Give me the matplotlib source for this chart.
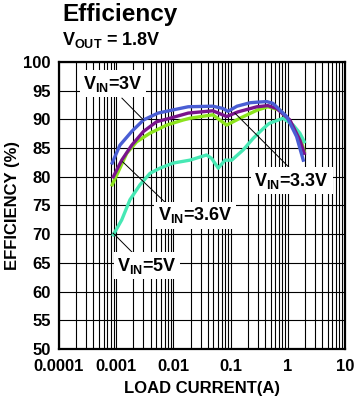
import numpy as np
import matplotlib
matplotlib.use("Agg")
import matplotlib.pyplot as plt
from matplotlib.ticker import LogLocator, FixedLocator, NullFormatter

# Datos (corriente de carga en A, eficiencia en %)
I_3V = [0.00085, 0.00116, 0.00187, 0.003, 0.0054, 0.0093, 0.0182, 0.049, 0.074,
        0.09, 0.13, 0.22, 0.29, 0.43, 0.55, 0.96, 1.43, 1.87]
EFF_3V = [82.4, 85.5, 87.9, 89.9, 91.1, 91.6, 92.2, 92.3, 91.9,
          91.4, 92.3, 92.9, 93.0, 93.1, 92.8, 90.5, 87.0, 82.9]

I_33V = [0.00089, 0.00125, 0.00187, 0.003, 0.0051, 0.0087, 0.0182, 0.049, 0.0855,
         0.134, 0.29, 0.45, 0.64, 1.09, 1.63, 1.95]
EFF_33V = [80.0, 82.9, 85.5, 87.9, 89.6, 90.2, 91.1, 91.5, 90.5,
           91.3, 92.2, 92.4, 91.9, 89.9, 86.4, 84.1]

I_36V = [0.00085, 0.00116, 0.00153, 0.00228, 0.0039, 0.0076, 0.0149, 0.0195, 0.049,
         0.0855, 0.146, 0.29, 0.45, 0.73, 1.09, 1.63, 1.95]
EFF_36V = [78.6, 81.5, 84.1, 86.1, 87.6, 89.0, 89.9, 90.2, 90.8,
           89.0, 90.2, 91.6, 92.2, 91.6, 89.6, 87.0, 84.4]

I_5V = [0.00089, 0.00125, 0.00174, 0.0026, 0.0039, 0.0058, 0.010, 0.0195, 0.038,
        0.0467, 0.061, 0.080, 0.105, 0.167, 0.249, 0.373, 0.475, 0.83, 1.25, 1.63, 1.95]
EFF_5V = [69.9, 72.5, 76.0, 78.6, 80.6, 81.5, 82.4, 82.9, 83.8,
          83.2, 81.5, 82.9, 82.9, 84.7, 86.7, 88.4, 89.3, 90.2, 89.0, 87.6, 86.1]

X_TICKS = [0.0001, 0.001, 0.01, 0.1, 1, 10]
X_LABELS = ["0.0001", "0.001", "0.01", "0.1", "1", "10"]
Y_TICKS = list(range(50, 101, 5))

plt.rcParams['font.family'] = ['Liberation Sans', 'DejaVu Sans']
plt.rcParams['font.weight'] = 'bold'
plt.rcParams['axes.labelweight'] = 'bold'
plt.rcParams['mathtext.fontset'] = 'custom'
plt.rcParams['mathtext.rm'] = 'Liberation Sans:bold'
plt.rcParams['mathtext.default'] = 'rm'

fig = plt.figure(figsize=(3.6, 4.07), dpi=100)
ax = fig.add_axes([0.164, 0.1425, 0.794, 0.7052])

ax.set_xscale('log')
ax.set_xlim(0.0001, 10)
ax.set_ylim(50, 100)

ax.xaxis.set_major_locator(FixedLocator(X_TICKS))
ax.set_xticklabels(X_LABELS)
ax.xaxis.set_minor_locator(LogLocator(base=10, subs=np.arange(2, 10)))
ax.xaxis.set_minor_formatter(NullFormatter())
ax.set_yticks(Y_TICKS)
ax.grid(True, which='both', color='black', linewidth=0.8)
ax.tick_params(which='both', length=0, labelsize=12)
ax.tick_params(axis='x', pad=7)
ax.tick_params(axis='y', pad=6)
for s in ax.spines.values():
    s.set_linewidth(1.6)

# Curvas
ax.plot(I_3V, EFF_3V, color='#4a5ed4', lw=2.4, zorder=5)
ax.plot(I_33V, EFF_33V, color='#7a148c', lw=2.4, zorder=4)
ax.plot(I_36V, EFF_36V, color='#8ce31c', lw=2.4, zorder=3)
ax.plot(I_5V, EFF_5V, color='#46e8b4', lw=2.4, zorder=3)

# Etiquetas con lineas guia
box = dict(facecolor='white', edgecolor='none', pad=2.5)
labels = [
    (r'V$_{IN}$=3V', (0.00088, 96.2), (0.00126, 93.7), (0.003, 89.9)),
    (r'V$_{IN}$=3.6V', (0.024, 73.3), (0.008, 75.1), (0.0013, 82.6)),
    (r'V$_{IN}$=3.3V', (1.18, 79.3), (1.09, 81.5), (0.119, 91.1)),
    (r'V$_{IN}$=5V', (0.00345, 64.5), (0.00197, 66.7), (0.00088, 70.2)),
]
for txt, pos, p1, p2 in labels:
    ax.plot([p1[0], p2[0]], [p1[1], p2[1]], color='black', lw=0.7, zorder=6)
    ax.text(pos[0], pos[1], txt, fontsize=13, ha='center', va='center',
            bbox=box, zorder=7)

ax.set_xlabel('LOAD CURRENT(A)', fontsize=12, labelpad=5)
ax.set_ylabel('EFFICIENCY (%)', fontsize=12, labelpad=4)
ax.yaxis.set_label_coords(-0.135, 0.5)

fig.text(62 / 360, 1 - 14 / 407, 'Efficiency', fontsize=17.5, fontweight='heavy',
         ha='left', va='center')
fig.text(62 / 360, 1 - 40 / 407, r'V$_{OUT}$ = 1.8V', fontsize=13,
         ha='left', va='center')

fig.savefig('out.png', dpi=100)
